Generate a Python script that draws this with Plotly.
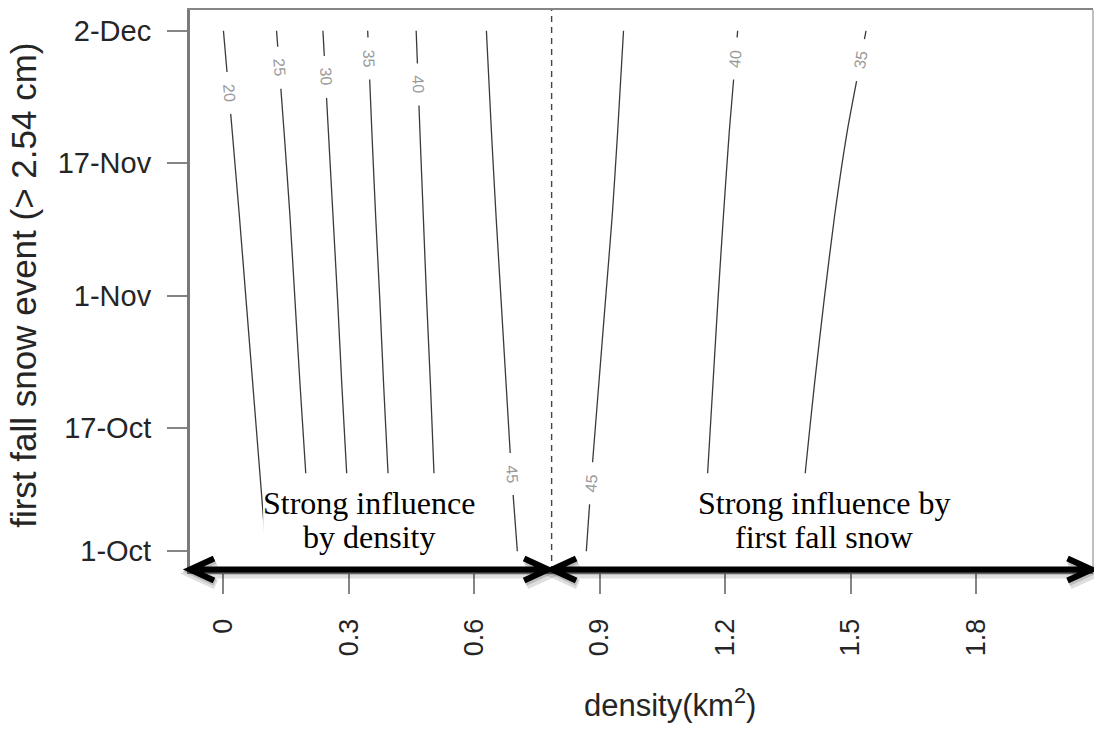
import numpy as np
import plotly.graph_objects as go

# ---- data -----------------------------------------------------------------
# vertical position along the season (0 = 1-Oct ... 62 = 2-Dec)
season_pos = [0, 10, 20, 30, 40, 50, 62]

# density (km^2) at which each contour crosses the season positions above
dens_20 = [0.102, 0.086, 0.070, 0.054, 0.038, 0.021, 0.000]
dens_25 = [0.208, 0.196, 0.183, 0.171, 0.159, 0.145, 0.127]
dens_30 = [0.305, 0.294, 0.283, 0.273, 0.262, 0.251, 0.238]
dens_35 = [0.402, 0.393, 0.383, 0.374, 0.364, 0.355, 0.345]
dens_40 = [0.511, 0.503, 0.495, 0.486, 0.478, 0.470, 0.461]
dens_45_low = [0.703, 0.688, 0.676, 0.664, 0.652, 0.641, 0.629]
dens_45_high = [0.868, 0.882, 0.898, 0.914, 0.930, 0.943, 0.957]
dens_40_high = [1.147, 1.159, 1.171, 1.183, 1.196, 1.210, 1.230]
dens_35_high = [1.374, 1.393, 1.414, 1.437, 1.462, 1.492, 1.537]

contour_levels = [20, 25, 30, 35, 40, 45, 45, 40, 35]
contour_lines = [dens_20, dens_25, dens_30, dens_35, dens_40,
                 dens_45_low, dens_45_high, dens_40_high, dens_35_high]
# season position of each contour's inline label
label_pos = [54.6, 57.6, 56.5, 58.7, 55.6, 9.2, 8.1, 58.7, 58.5]

# tick positions / labels
date_tick_pos = [0, 14.7, 30.4, 46.3, 62]
date_tick_text = ["1-Oct", "17-Oct", "1-Nov", "17-Nov", "2-Dec"]
density_ticks = [0, 0.3, 0.6, 0.9, 1.2, 1.5, 1.8]
density_tick_text = ["0", "0.3", "0.6", "0.9", "1.2", "1.5", "1.8"]

# density separating the two regimes
split_density = 0.785

# ---- styling ----------------------------------------------------------------
label_angle = [84.9, 85.7, 86.8, 87.7, 87.9, 85.7, -85.8, -85.3, -80.7]
label_gap = 2.5          # half height of the gap left around each label
x_range = [-0.08, 2.08]
y_range = [-2.48, 64.48]
line_col = "#3a3a3a"
label_col = "#9a9a9a"
frame_col = "#858585"
text_col = "#252525"
sans = "Liberation Sans, Arial, Helvetica, sans-serif"
serif = "Liberation Serif, Times New Roman, serif"

fig = go.Figure()

# contour lines, broken where their labels sit
for level, xs, lp, ang in zip(contour_levels, contour_lines, label_pos, label_angle):
    xs = np.asarray(xs, dtype=float)
    ys = np.asarray(season_pos, dtype=float)
    lo, hi = lp - label_gap, lp + label_gap
    px, py = [], []
    below = ys < lo
    px += list(xs[below]) + [float(np.interp(lo, ys, xs)), None,
                              float(np.interp(hi, ys, xs))]
    py += list(ys[below]) + [lo, None, hi]
    above = ys > hi
    px += list(xs[above])
    py += list(ys[above])
    fig.add_trace(go.Scatter(x=px, y=py, mode="lines",
                             line=dict(color=line_col, width=1.3, shape="spline",
                                       smoothing=0.6),
                             hoverinfo="skip", showlegend=False,
                             connectgaps=False))
    fig.add_annotation(x=float(np.interp(lp, ys, xs)), y=lp, xref="x", yref="y",
                       text=str(level), showarrow=False, textangle=ang,
                       xanchor="center", yanchor="middle",
                       font=dict(family=sans, size=16, color=label_col))

# white boxes behind the regime notes
xw = x_range[1] - x_range[0]
def to_paper(xv):
    return (xv - x_range[0]) / xw

for x0, x1 in [(0.095, 0.619), (1.128, 1.750)]:
    fig.add_shape(type="rect", xref="x", yref="y", x0=x0, x1=x1,
                  y0=y_range[0], y1=9.3, fillcolor="white",
                  line=dict(width=0), layer="above")

# dashed divider
fig.add_shape(type="line", xref="x", yref="paper", x0=split_density,
              x1=split_density, y0=0, y1=1,
              line=dict(color="#444444", width=1.4, dash="6px,5px"), layer="above")

# right frame edge
fig.add_shape(type="line", xref="paper", yref="paper", x0=1, x1=1, y0=0, y1=1,
              line=dict(color="#aaaaaa", width=1.5), layer="above")

# double-headed arrows along the density axis
plot_w, plot_h = 903.0, 562.0
ay = 2.5 / plot_h
hx, hy = 24 / plot_w, 11 / plot_h
split_p = to_paper(split_density)
segments = [(0.0, split_p - 3.5 / plot_w), (split_p + 0.5 / plot_w, 1.0 - 1.5 / plot_w)]

def arrow_path(a, b, dx=0.0, dy=0.0):
    a += dx; b += dx
    y = ay + dy
    return (f"M{a},{y} L{b},{y} "
            f"M{a + hx},{y + hy} L{a},{y} L{a + hx},{y - hy} "
            f"M{b - hx},{y + hy} L{b},{y} L{b - hx},{y - hy}")

for a, b in segments:
    fig.add_shape(type="path", xref="paper", yref="paper",
                  path=arrow_path(a, b, 2 / plot_w, -4 / plot_h),
                  line=dict(color="rgba(0,0,0,0.13)", width=10), layer="above")
    fig.add_shape(type="path", xref="paper", yref="paper",
                  path=arrow_path(a, b, 1 / plot_w, -2 / plot_h),
                  line=dict(color="rgba(0,0,0,0.15)", width=7), layer="above")
for a, b in segments:
    fig.add_shape(type="path", xref="paper", yref="paper",
                  path=arrow_path(a, b),
                  line=dict(color="black", width=6), layer="above")

# regime notes
notes = [(0.347, ["Strong influence", "by density"]),
         (1.437, ["Strong influence by", "first fall snow"])]
for xc, lines in notes:
    for yv, txt in zip([5.75, 1.7], lines):
        fig.add_annotation(x=xc, y=yv, xref="x", yref="y", text=txt,
                           showarrow=False, xanchor="center", yanchor="middle",
                           font=dict(family=serif, size=32, color="black"))

# axis titles
fig.add_annotation(x=0.5316, y=-0.233, xref="paper", yref="paper",
                   text="density(km<sup>2</sup>)", showarrow=False,
                   xanchor="center", yanchor="middle",
                   font=dict(family=sans, size=31, color=text_col))
fig.add_annotation(x=-0.184, y=0.5107, xref="paper", yref="paper",
                   text="first fall snow event (> 2.54 cm)", showarrow=False,
                   xanchor="center", yanchor="middle",
                   textangle=-90, font=dict(family=sans, size=35, color=text_col))

fig.update_xaxes(range=x_range, tickvals=density_ticks, ticktext=density_tick_text,
                 tickangle=-90, ticks="outside", ticklen=20, tickwidth=1.5,
                 tickcolor=frame_col, showgrid=False, zeroline=False,
                 showline=True, linecolor=frame_col, linewidth=2, mirror=True,
                 ticklabelstandoff=14,
                 tickfont=dict(family=sans, size=27, color=text_col))
fig.update_yaxes(range=y_range, tickvals=date_tick_pos, ticktext=date_tick_text,
                 ticks="outside", ticklen=20, tickwidth=1.5, tickcolor=frame_col,
                 showgrid=False, zeroline=False, showline=True,
                 linecolor="#7a7a7a", linewidth=3, ticklabelstandoff=10,
                 tickfont=dict(family=sans, size=29, color=text_col))

fig.update_layout(width=1094, height=748,
                  margin=dict(l=190, r=1, t=10, b=176),
                  plot_bgcolor="white", paper_bgcolor="white",
                  showlegend=False)

fig.write_html("out.html")
